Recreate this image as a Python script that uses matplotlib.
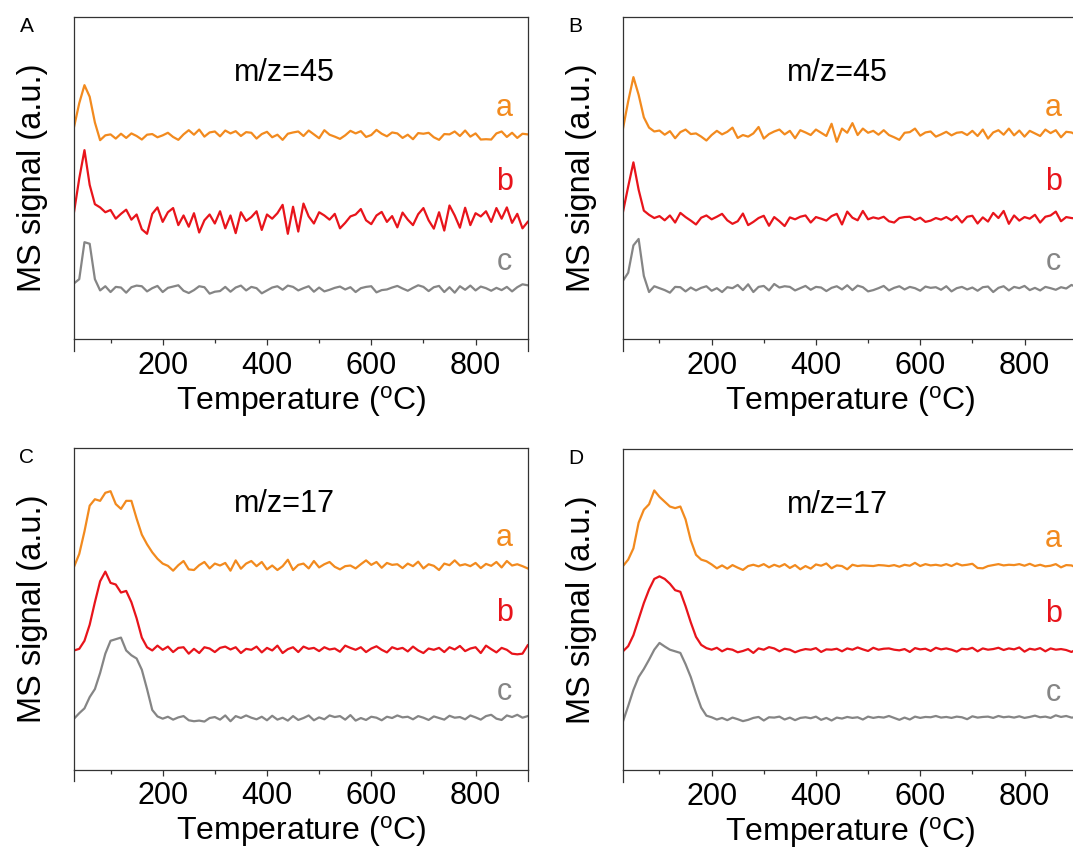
import numpy as np
import matplotlib
matplotlib.use("Agg")
import matplotlib.pyplot as plt

plt.rcParams["font.family"] = ["Liberation Sans", "DejaVu Sans"]
plt.rcParams["mathtext.default"] = "regular"

# temperature grid (deg C), one reading every 10 degrees
temperature = np.arange(30, 901, 10)

# signals relative to each trace's own baseline (a.u.)
A_a = [2.6, 10.0, 15.6, 12.0, 4.0, -1.5, 0.0, 0.3, -1.0, 0.5,
       -0.8, 0.6, -0.2, -1.3, 0.2, 0.4, -0.6, 0.0, 0.8, -0.5,
       -1.4, 0.3, 1.6, 0.2, 1.8, -0.4, 0.9, 1.2, -0.3, 1.5,
       0.6, 1.3, -0.2, 1.0, 0.8, -1.0, 0.4, 1.1, -0.6, 0.2,
       -1.4, 0.5, 0.9, 1.2, -0.2, 1.5, 0.3, -0.9, 1.6, 0.2,
       -0.4, -1.1, 0.0, 1.4, 0.6, 1.3, -0.5, 0.1, 1.7, 0.5,
       -0.3, 0.9, 0.6, -0.8, 0.2, -1.2, 0.7, 0.5, 0.8, -0.6,
       -1.4, 0.4, 0.3, 1.2, -0.2, 1.5, -0.4, 0.6, -1.3, -1.2,
       -1.3, 0.6, 1.2, -0.5, 0.8, -0.8, 0.5, 0.3]
A_b = [1.6, 12.0, 20.8, 10.0, 4.0, 3.0, 1.5, 2.2, -0.5, 1.0,
       2.3, -0.8, 0.8, -3.8, -5.2, 1.0, 3.0, -1.5, 1.5, 2.8,
       -2.5, 0.5, -3.0, 1.2, -4.8, -1.0, 0.8, -2.0, 1.8, -3.5,
       0.5, -5.0, 1.5, -1.2, 0.0, 1.8, -4.0, 0.8, -0.5, 1.2,
       3.8, -5.2, 3.2, -4.5, 4.2, 0.2, -2.0, 1.5, 0.5, -0.8,
       1.0, -3.5, -1.8, 0.2, 0.8, 2.5, -1.0, -2.2, 0.5, 1.6,
       -1.5, 0.3, -3.2, 1.4, -0.8, -2.5, 0.9, 2.8, -1.0, -3.6,
       1.5, -4.2, 3.6, 0.5, -3.3, 2.9, -2.5, 1.2, 0.2, 1.8,
       -1.5, 2.8, -0.5, 3.0, -1.8, 1.0, -3.5, -1.5]
A_c = [1.7, 3.0, 14.5, 14.0, 3.0, -0.5, 0.8, -1.0, 0.6, 0.4,
       -1.2, 0.5, 1.0, 0.8, -0.8, 0.2, 0.9, -1.0, 0.3, 0.7,
       1.1, -0.6, -1.3, -0.4, 0.8, 0.5, -1.5, -0.9, -0.7, 0.6,
       -0.9, 0.4, 1.0, -0.5, 0.6, 0.2, -1.4, -0.5, 0.4, 0.8,
       -0.3, 1.0, 0.6, -0.5, 0.2, 0.8, -0.9, 0.4, -0.8, -0.3,
       0.3, 0.7, -0.2, 0.5, -1.0, 0.2, 0.6, 0.8, -1.1, -0.4,
       -0.2, 0.4, 0.9, 0.1, -0.6, 0.3, 1.1, 0.6, -0.7, 0.5,
       0.9, -1.0, 0.5, -1.2, 0.8, -0.3, 1.0, -0.5, 0.7, 0.2,
       -0.6, 0.3, -0.4, 0.6, -0.8, 0.5, 1.4, 1.1]

B_a = [1.5, 10.0, 17.5, 12.0, 5.0, 1.8, 0.6, 0.9, -0.4, 0.7,
       -1.5, 0.4, 1.2, -0.2, 0.0, -1.0, -2.2, -0.5, 0.8, -0.3,
       0.5, 1.8, -1.4, -0.5, -1.0, 0.0, 2.0, -1.6, -0.2, 0.6,
       1.2, -0.3, 0.8, -1.5, 1.0, 0.3, -0.5, 1.2, 0.2, -0.8,
       3.0, -2.6, 1.5, 0.2, 3.2, -0.5, 1.5, 0.2, 0.8, -0.4,
       1.0, -0.5, -1.2, -2.0, 0.2, 0.4, 1.5, -0.7, 0.3, 0.6,
       -1.0, -0.3, 0.5, -0.6, 0.2, 0.4, -0.5, 0.8, -0.8, 1.2,
       -1.6, 0.3, 1.0, -0.4, 1.5, -0.6, 0.9, -1.0, 0.8, 0.0,
       -0.8, 1.2, 0.1, 1.0, -1.2, 0.5, 0.3, -0.5]
B_b = [2.1, 10.0, 17.5, 9.0, 2.5, 1.2, 0.2, 0.8, -0.5, 1.0,
       -1.2, 1.8, 0.5, -0.6, -1.8, 0.3, 1.0, -0.2, 0.6, 1.5,
       -0.5, -1.6, -0.8, 1.6, -2.0, -1.0, 0.2, 0.9, -2.2, 0.5,
       -0.8, -2.3, 0.4, -0.2, 0.6, 1.0, -1.2, 0.5, 0.0, -0.6,
       0.8, 1.5, -1.8, 2.2, 0.3, -0.5, 2.4, -0.2, 0.4, 0.0,
       0.6, -0.8, -1.2, 0.2, 0.5, 0.6, -0.4, 0.3, -1.0, -0.6,
       0.2, -0.3, 0.5, -0.5, 0.8, -1.2, 0.6, 0.9, -1.5, 0.4,
       -0.9, 1.8, 0.2, 2.4, -1.6, 1.0, -0.6, 0.5, 0.0, 1.2,
       -1.2, 0.6, 1.0, 2.2, -0.8, 0.5, 0.2, 0.0]
B_c = [2.5, 5.0, 13.5, 15.5, 4.0, -1.0, 0.8, 0.2, -0.4, -1.2,
       0.6, 0.5, -0.8, 0.4, -0.5, 0.3, 0.8, -0.6, 0.2, -1.0,
       0.5, 0.2, 1.2, -0.4, 1.4, -1.0, 0.6, 0.9, -0.5, 1.5,
       0.4, 0.8, 0.6, -0.5, 0.2, 0.9, -0.3, 0.6, 0.4, -0.7,
       0.3, 0.8, -0.2, 1.1, -0.4, 1.0, 0.5, -0.8, -0.4, 0.2,
       0.9, -0.5, 0.3, 0.8, -0.2, 0.6, 0.2, -0.6, 0.7, 0.3,
       0.5, -0.3, 0.8, -0.8, 0.2, 0.6, -0.2, 0.4, -0.6, 0.5,
       0.7, -1.0, 0.3, 0.8, -0.5, 0.6, 0.2, 0.9, -0.4, 0.3,
       -0.5, 0.6, 0.2, -0.3, 0.5, 0.1, 1.2, 0.5]

C_a = [0.0, 4.0, 11.0, 19.0, 21.0, 20.5, 23.0, 23.5, 19.5, 18.0,
       20.5, 20.5, 15.0, 10.0, 7.0, 4.5, 2.5, 1.0, 0.3, -1.2,
       0.5, 1.8, -0.8, -1.0, 0.5, 1.5, -0.5, 1.0, 0.4, 1.2,
       -1.2, 2.0, -0.6, 1.0, 1.8, 0.2, 1.5, -0.8, 0.4, -1.0,
       0.2, 2.2, -1.0, 0.6, 1.0, -0.5, 1.8, -0.2, 0.8, 1.5,
       0.0, -0.8, 0.2, 0.4, -0.5, 0.8, 2.0, 0.6, 1.5, -0.3,
       1.2, 0.6, 0.8, -0.4, 1.0, 0.2, 1.6, -0.5, 0.8, 0.3,
       -1.0, 1.0, 0.5, 2.0, 0.4, 0.8, 0.2, 1.2, -0.4, 0.9,
       0.3, 1.5, -0.2, 1.8, 0.4, 0.8, 0.2, -0.5]
C_b = [0.0, 0.5, 3.0, 8.0, 15.0, 21.5, 24.5, 21.0, 20.5, 18.0,
       18.5, 15.0, 10.0, 4.0, 1.0, 0.0, 1.5, 0.2, 1.2, -0.5,
       0.8, 1.0, -1.0, 0.5, -0.8, 1.0, 0.6, -0.5, 0.8, 1.2,
       0.3, 1.0, -0.8, 0.5, 0.2, 1.2, -0.6, 0.8, 0.0, 1.5,
       -0.8, 0.4, 1.0, -0.5, 1.2, 0.5, 0.8, -0.2, 1.0, 0.3,
       0.6, -0.4, 1.5, 0.8, 0.2, 1.0, -0.5, 0.6, 1.3, 0.2,
       -0.6, 1.0, 0.4, 0.8, -0.3, 1.2, 0.0, -0.8, 0.6, 0.2,
       0.8, -0.5, 1.0, 0.3, 1.4, -0.2, 0.6, 1.0, -0.8, 1.5,
       0.4, -0.6, 0.8, 0.2, -1.0, -1.2, -1.0, 1.6]
C_c = [0.0, 1.7, 3.2, 6.7, 9.2, 14.2, 20.2, 24.2, 24.7, 25.2,
       21.2, 19.7, 18.7, 15.2, 9.2, 2.7, 0.7, 0.0, 0.6, -0.3,
       0.4, 0.8, -0.5, -0.8, -0.6, -0.9, 0.2, 0.5, -0.3, 1.0,
       -0.8, 0.8, 0.2, 1.0, 0.3, -0.2, 0.6, -0.5, 0.9, -0.3,
       0.3, -0.6, 0.8, -0.4, 0.2, 1.0, -0.5, 0.4, -0.2, 1.0,
       0.5, 0.8, -0.3, 1.1, -0.6, 0.2, -0.4, 0.6, 0.3, -0.5,
       0.6, 0.2, 1.0, 0.4, 0.6, -0.2, 0.8, 0.3, -0.4, 0.7,
       0.2, -0.3, 0.9, 0.3, 0.5, -0.2, 1.0, 0.4, -0.3, 0.8,
       1.2, 0.0, -0.4, 1.0, 0.5, 1.2, 0.3, 0.8]

D_a = [0.2, 2.2, 5.7, 13.7, 17.7, 19.4, 23.7, 21.7, 20.2, 18.7,
       18.2, 18.7, 14.7, 8.2, 3.7, 2.2, 1.7, 0.7, -0.5, 0.4,
       -0.6, 0.5, -0.3, -1.0, 0.2, 0.6, 0.1, 0.8, -0.2, 0.6,
       0.0, 0.8, -0.4, 0.5, -0.8, 0.2, -0.6, 0.7, 0.3, 1.0,
       -0.5, 0.4, 0.2, -0.8, 0.6, 0.2, 0.4, 0.3, 0.2, 0.5,
       0.4, 0.2, 0.5, 0.0, 0.6, 0.3, 1.2, 0.2, 0.8, 0.4,
       0.6, 0.3, 0.8, 0.2, 1.0, 0.4, 0.6, 0.9, -0.4, -0.5,
       0.2, 0.5, 0.8, 0.4, 0.6, 0.5, 0.8, 0.3, 0.9, 0.2,
       0.6, 0.1, 0.3, 0.8, -0.2, 0.5, 0.4, -0.3]
D_b = [-0.3, 1.3, 4.7, 9.7, 14.7, 18.9, 22.2, 23.0, 22.2, 20.7,
       18.7, 18.2, 13.7, 8.7, 4.2, 1.7, 0.7, 0.2, 0.8, -0.3,
       0.5, 0.2, -0.6, -0.2, 0.4, -0.8, 0.6, 0.2, 1.0, 0.6,
       -0.3, 0.5, 0.2, -0.6, 0.0, 0.4, 0.2, 0.7, -0.5, 0.3,
       0.2, 0.5, -0.3, 0.6, 0.2, 0.9, 0.3, -0.2, 0.8, 0.2,
       0.5, 0.6, 0.2, 0.0, 0.4, -0.5, 0.7, 0.3, 0.5, -0.2,
       0.8, 0.3, 0.6, 0.2, -0.4, 0.5, 0.3, 0.8, -0.3, 0.6,
       0.2, 0.4, 0.8, 0.1, 0.6, 0.3, 0.9, -0.4, 0.5, 0.2,
       0.7, -0.3, 0.6, 0.2, 0.4, 0.1, -0.5, 0.3]
D_c = [-0.9, 3.9, 8.9, 12.9, 15.4, 18.3, 21.4, 23.5, 22.4, 21.4,
       20.9, 20.4, 16.9, 12.9, 7.9, 3.4, 0.9, 0.4, -0.3, 0.2,
       -0.5, 0.3, -0.2, -0.8, -0.4, 0.2, 0.5, -0.6, 0.4, 0.3,
       0.6, -0.3, 0.3, -0.5, 0.2, 0.4, 0.1, 0.6, -0.4, 0.2,
       -0.6, 0.3, 0.0, 0.5, 0.2, 0.4, -0.3, 0.6, 0.2, 0.5,
       0.3, 0.8, 0.2, -0.4, 0.3, -0.3, 0.6, 0.2, 0.5, 0.4,
       0.8, 0.3, 0.5, 0.2, 0.6, 0.4, -0.2, 0.7, 0.3, 0.5,
       0.6, 0.2, 0.8, 0.4, 0.6, 0.3, 0.7, 0.2, 0.5, 0.9,
       0.4, 0.6, 0.2, 1.0, 0.5, 0.8, 0.3, 0.4]

panel_letters = ["A", "B", "C", "D"]
panel_titles = ["m/z=45", "m/z=45", "m/z=17", "m/z=17"]
panel_data = [(A_a, A_b, A_c), (B_a, B_b, B_c), (C_a, C_b, C_c), (D_a, D_b, D_c)]
# vertical stacking of the three traces in each panel
panel_offsets = [(63.3, 37.9, 15.6), (63.9, 37.4, 15.6),
                 (63.0, 37.0, 15.8), (63.3, 37.3, 16.1)]
trace_names = ["a", "b", "c"]
trace_colors = ["#F28A1E", "#E8141B", "#858585"]

# axes rectangles in figure fractions (right column runs slightly off the page)
rects = [[0.0690, 0.6035, 0.4228, 0.3763],
         [0.5806, 0.6035, 0.4228, 0.3763],
         [0.0690, 0.1000, 0.4228, 0.3763],
         [0.5806, 0.0990, 0.4228, 0.3763]]
title_x = [0.464, 0.472, 0.463, 0.472]

fig = plt.figure(figsize=(10.73, 8.55), dpi=100)

for i in range(4):
    ax = fig.add_axes(rects[i])
    for sig, off, name, col in zip(panel_data[i], panel_offsets[i], trace_names, trace_colors):
        ax.plot(temperature, np.array(sig) + off, color=col, lw=1.6)
    for y, name, col in zip([0.718, 0.487, 0.24], trace_names, trace_colors):
        ax.text(0.948, y, name, color=col, fontsize=22, ha="center", va="center",
                transform=ax.transAxes)
    ax.text(title_x[i], 0.826, panel_titles[i], fontsize=22, ha="center", va="center",
            transform=ax.transAxes)
    ax.set_xlim(30, 900)
    ax.set_ylim(0, 100)
    ax.set_xticks([200, 400, 600, 800])
    ax.set_xticks([100, 300, 500, 700], minor=True)
    ax.tick_params(axis="x", which="major", direction="out", length=4.5, width=0.9,
                   labelsize=22, pad=4, color="#333333")
    ax.tick_params(axis="x", which="minor", direction="out", length=3, width=0.9,
                   color="#333333")
    ax.set_yticks([])
    for s in ax.spines.values():
        s.set_linewidth(0.9)
        s.set_color("#333333")
    # Origin-style spine stubs below the x axis at both ends
    for xe in (0, 1):
        ax.plot([xe, xe], [0, -0.037], transform=ax.transAxes, clip_on=False,
                color="#333333", lw=0.9)
    ax.set_xlabel(r"Temperature ($^{o}$C)", fontsize=23, labelpad=2)
    ax.set_ylabel("MS signal (a.u.)", fontsize=23.5)
    ax.yaxis.set_label_coords(-0.058, 0.5)
    ax.text(-0.105, 1.0 - 0.03, panel_letters[i], fontsize=15, ha="center", va="center",
            transform=ax.transAxes)

fig.savefig("out.png", dpi=100)
